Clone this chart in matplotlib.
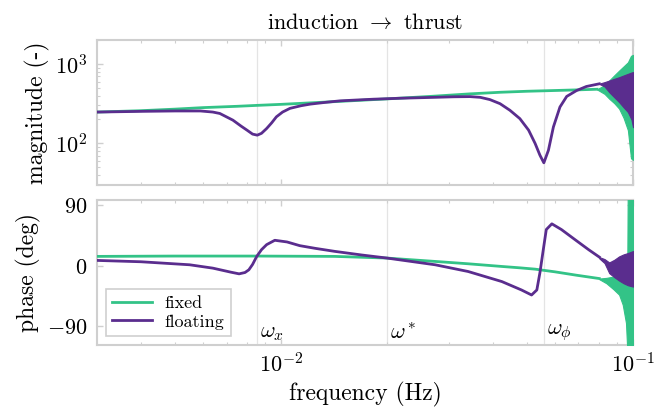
import matplotlib
matplotlib.use("Agg")
import matplotlib.pyplot as plt
import numpy as np

# frequency response
mag_fixed_f = [0.003, 0.004, 0.005, 0.006, 0.0075, 0.00855, 0.01, 0.012, 0.0147, 0.02,
               0.027, 0.0344, 0.042, 0.05, 0.06, 0.07, 0.079]
mag_fixed = [248, 258, 270, 282, 293, 301, 310, 323, 338, 363,
             392, 420, 440, 453, 463, 472, 480]

mag_float_f = [0.003, 0.004, 0.005, 0.0059, 0.0064, 0.0067, 0.0073, 0.0077, 0.008, 0.0083,
               0.00856, 0.0088, 0.0091, 0.0094, 0.0097, 0.0101, 0.0106, 0.0114, 0.0121, 0.0135,
               0.0147, 0.0165, 0.0183, 0.02, 0.0218, 0.0274, 0.031, 0.0344, 0.0368, 0.0392,
               0.0419, 0.0447, 0.0477, 0.0505, 0.0527, 0.0544, 0.0558, 0.0575, 0.0594, 0.062,
               0.0648, 0.0691, 0.0737, 0.0802]
mag_float = [248, 253, 256, 256, 248, 238, 196, 165, 147, 131,
             127, 134, 154, 181, 216, 248, 276, 298, 312, 330,
             343, 352, 360, 365, 370, 380, 386, 388, 380, 356,
             316, 261, 205, 147, 100, 71, 57, 82, 161, 287,
             390, 462, 520, 562]

# oscillating tails near 0.1 Hz (envelopes)
mag_fixed_band_f = [0.079, 0.083, 0.0856, 0.0885, 0.0913, 0.094, 0.0967, 0.0987, 0.1]
mag_fixed_hi = [480, 540, 620, 720, 824, 930, 1047, 1264, 1300]
mag_fixed_lo = [478, 420, 365, 320, 274, 210, 147, 65, 62]

mag_float_band_f = [0.0802, 0.083, 0.0856, 0.0885, 0.0913, 0.094, 0.0967, 0.099, 0.1]
mag_float_hi = [565, 590, 618, 650, 680, 715, 750, 780, 790]
mag_float_lo = [560, 520, 441, 380, 331, 285, 248, 200, 160]

ph_fixed_f = [0.003, 0.005, 0.0085, 0.0142, 0.02, 0.0274, 0.034, 0.0424, 0.0476, 0.0527,
              0.06, 0.069, 0.0802]
ph_fixed = [14, 14.5, 14.5, 14, 11.5, 6.5, 3, -1, -3, -5,
            -9, -14, -19]

ph_float_f = [0.003, 0.004, 0.0055, 0.0064, 0.0072, 0.0076, 0.0079, 0.0081, 0.0083, 0.00853,
              0.0088, 0.0091, 0.0096, 0.0104, 0.0113, 0.0125, 0.0142, 0.017, 0.02, 0.0274,
              0.034, 0.0424, 0.0482, 0.0515, 0.0533, 0.0544, 0.0556, 0.0567, 0.0588, 0.0626,
              0.0684, 0.0748, 0.0802]
ph_float = [8, 6, 1.5, -3.5, -9.5, -12, -10, -6, 2, 14,
            24, 31.5, 38, 35.5, 30, 26, 21.5, 16, 11.5, 1.5,
            -8.5, -23.5, -36, -43.5, -36, -10, 24, 54, 62.5, 54,
            39, 24, 13]

ph_fixed_band_f = [0.0802, 0.084, 0.088, 0.0913, 0.0935, 0.0955, 0.0963, 0.0966, 0.1]
ph_fixed_hi = [-19, -18, -16, -14, -12, -10, -8, 110, 110]
ph_fixed_lo = [-20, -26, -35, -43, -58, -85, -125, -125, -125]

ph_float_band_f = [0.0802, 0.083, 0.0856, 0.0885, 0.0913, 0.094, 0.0967, 0.1]
ph_float_hi = [13, 10, 5, 9, 14, 17, 19, 22]
ph_float_lo = [11, 4, -11, -17, -22, -26, -29, -31]

marks = [0.00855, 0.02, 0.0558]
mark_labels = [r'$\omega_x$', r'$\omega^*$', r'$\omega_\phi$']

green = '#33c387'
purple = '#5a2d8e'
grey = '#cfcfcf'

plt.rcParams['font.family'] = 'serif'
plt.rcParams['font.serif'] = ['cmr10']
plt.rcParams['mathtext.fontset'] = 'cm'
plt.rcParams['axes.formatter.use_mathtext'] = True
plt.rcParams['font.size'] = 16

fig = plt.figure(figsize=(6.7, 4.08), dpi=100)
ax1 = fig.add_axes([0.1448, 0.5466, 0.80, 0.3554])
ax2 = fig.add_axes([0.1448, 0.1544, 0.80, 0.3554])

for ax in (ax1, ax2):
    for f in marks:
        ax.axvline(f, color='#e4e4e4', lw=0.9, zorder=0)
    ax.set_xscale('log')
    ax.set_xlim(0.003, 0.1)
    for s in ax.spines.values():
        s.set_color(grey)
        s.set_linewidth(1.5)
    ax.tick_params(which='both', direction='in', top=True, right=True, color=grey,
                   labelsize=16)
    ax.tick_params(axis='y', pad=7)
    ax.tick_params(axis='x', pad=5)
    ax.tick_params(which='major', length=4, width=1.0)
    ax.tick_params(which='minor', length=2.5, width=0.8)

ax1.plot(mag_fixed_f, mag_fixed, color=green, lw=2.0, zorder=3)
ax1.fill_between(mag_fixed_band_f, mag_fixed_lo, mag_fixed_hi, color=green, lw=0.8, zorder=3)
ax1.plot(mag_float_f, mag_float, color=purple, lw=2.0, zorder=4)
ax1.fill_between(mag_float_band_f, mag_float_lo, mag_float_hi, color=purple, lw=0.8, zorder=4)
ax1.set_yscale('log')
ax1.set_ylim(30, 2000)
ax1.tick_params(labelbottom=False)
ax1.set_ylabel('magnitude (-)', fontsize=17)
ax1.set_title(r'induction $\rightarrow$ thrust', fontsize=16, pad=8)

ax2.plot(ph_fixed_f, ph_fixed, color=green, lw=2.0, zorder=3, label='fixed')
ax2.fill_between(ph_fixed_band_f, ph_fixed_lo, ph_fixed_hi, color=green, lw=0.8, zorder=3)
ax2.plot(ph_float_f, ph_float, color=purple, lw=2.0, zorder=4, label='floating')
ax2.fill_between(ph_float_band_f, ph_float_lo, ph_float_hi, color=purple, lw=0.8, zorder=4)
ax2.set_ylim(-118, 98)
ax2.set_yticks([-90, 0, 90])
ax2.yaxis.set_minor_locator(matplotlib.ticker.NullLocator())
ax2.set_ylabel('phase (deg)', fontsize=17)
ax2.set_xlabel('frequency (Hz)', fontsize=17, labelpad=4)

for f, lab in zip(marks, mark_labels):
    ax2.text(f * 1.02, 0.015, lab, transform=ax2.get_xaxis_transform(),
             ha='left', va='bottom', fontsize=16)

leg = ax2.legend(loc='lower left', fontsize=13, fancybox=False, framealpha=1,
                 edgecolor=grey, handlelength=2.2, handletextpad=0.7,
                 borderaxespad=0.5, labelspacing=0.15, borderpad=0.35)
leg.get_frame().set_linewidth(1.2)

fig.align_ylabels([ax1, ax2])
fig.savefig('out.png', dpi=100)
